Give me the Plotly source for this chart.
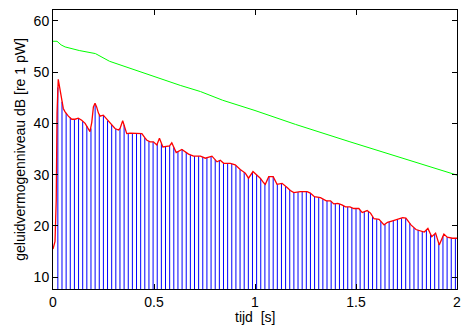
import plotly.graph_objects as go

# Red curve (fine-resolution level), time in s, level in dB
red_t = [0.000, 0.010, 0.016, 0.020, 0.026, 0.035, 0.043, 0.051, 0.059, 0.076,
         0.093, 0.109, 0.125, 0.142, 0.159, 0.175, 0.183, 0.192, 0.200, 0.208,
         0.216, 0.225, 0.233, 0.249, 0.258, 0.274, 0.291, 0.307, 0.324, 0.332,
         0.345, 0.352, 0.365, 0.382, 0.415, 0.440, 0.456, 0.465, 0.481, 0.497,
         0.514, 0.527, 0.544, 0.560, 0.577, 0.588, 0.610, 0.638, 0.671, 0.696,
         0.730, 0.754, 0.778, 0.787, 0.812, 0.828, 0.845, 0.878, 0.902, 0.927,
         0.952, 0.968, 0.990, 1.010, 1.026, 1.043, 1.051, 1.068, 1.090, 1.109,
         1.134, 1.159, 1.175, 1.192, 1.210, 1.225, 1.258, 1.274, 1.294, 1.324,
         1.353, 1.374, 1.390, 1.410, 1.430, 1.448, 1.470, 1.489, 1.514, 1.531,
         1.555, 1.572, 1.589, 1.614, 1.639, 1.656, 1.681, 1.706, 1.731, 1.747,
         1.772, 1.797, 1.820, 1.838, 1.856, 1.875, 1.894, 1.912, 1.935, 1.952,
         1.977, 2.000]
red_db = [15.5, 17.0, 25.0, 42.0, 48.6, 46.2, 44.5, 42.9, 42.3, 41.4,
          40.8, 40.8, 41.0, 40.6, 40.0, 39.0, 38.4, 40.2, 43.2, 43.9,
          43.2, 42.0, 41.4, 41.6, 41.2, 40.3, 39.7, 39.0, 38.7, 39.0,
          40.5, 39.7, 38.0, 38.1, 38.1, 38.0, 37.1, 36.7, 36.4, 36.4,
          35.8, 37.1, 35.4, 35.5, 35.6, 36.2, 34.3, 34.9, 34.0, 33.6,
          33.6, 33.2, 33.5, 33.6, 32.5, 32.8, 32.2, 32.2, 31.9, 31.0,
          30.3, 29.3, 30.6, 29.9, 29.3, 28.4, 28.1, 29.6, 29.6, 28.1,
          28.3, 27.5, 26.9, 26.5, 26.6, 26.7, 26.7, 26.4, 25.7, 25.5,
          24.9, 24.9, 24.3, 24.4, 24.1, 23.7, 23.7, 23.4, 23.4, 22.6,
          23.0, 22.5, 21.4, 21.3, 20.2, 20.7, 21.0, 21.3, 21.6, 21.5,
          20.2, 19.3, 19.1, 18.8, 19.5, 17.9, 18.6, 16.3, 18.4, 17.8,
          17.6, 17.6]

# Blue stems (frame levels)
stem_start = 0.024
stem_step = 0.0205
stem_db = [47.0, 44.2, 42.0, 41.1, 40.8, 41.0, 40.4, 39.5, 39.0, 43.8,
           41.7, 41.6, 40.5, 39.7, 38.9, 39.0, 39.7, 38.0, 38.1, 38.1,
           38.0, 37.2, 36.5, 36.4, 36.0, 36.0, 35.5, 35.6, 35.3, 34.5,
           34.9, 34.4, 33.8, 33.6, 33.6, 33.4, 33.3, 33.5, 32.9, 32.7,
           32.2, 32.2, 32.1, 31.8, 31.0, 30.5, 29.4, 30.4, 30.0, 29.2,
           28.2, 29.6, 29.6, 28.1, 28.3, 27.7, 27.0, 26.5, 26.6, 26.7,
           26.7, 26.4, 25.7, 25.5, 25.2, 24.9, 24.8, 24.3, 24.3, 23.9,
           23.7, 23.5, 23.4, 23.1, 22.8, 22.8, 21.8, 21.3, 20.9, 20.3,
           20.8, 21.0, 21.3, 21.5, 21.5, 20.5, 19.6, 19.2, 19.0, 19.2,
           18.4, 18.4, 16.5, 18.0, 17.8, 17.6, 17.6]
stem_t = [round(stem_start + stem_step * i, 4) for i in range(len(stem_db))]

# Green line
green_t = [0.00, 0.02, 0.04, 0.06, 0.13, 0.21, 0.28, 0.36, 0.43, 0.53,
           0.63, 0.73, 0.84, 1.00, 1.20, 1.47, 1.77, 2.00]
green_db = [56.0, 56.0, 55.3, 54.9, 54.2, 53.6, 52.1, 51.0, 50.1, 48.7,
            47.4, 46.2, 44.5, 42.5, 39.8, 36.4, 32.8, 29.9]

x_ticks = [0, 0.5, 1, 1.5, 2]
x_ticklabels = ["0", "0.5", "1", "1.5", "2"]
y_ticks = [10, 20, 30, 40, 50, 60]

stem_x, stem_y = [], []
for t, v in zip(stem_t, stem_db):
    stem_x += [t, t, None]
    stem_y += [0, v, None]

fig = go.Figure()
fig.add_trace(go.Scatter(x=stem_x, y=stem_y, mode="lines",
                         line=dict(color="#0000FF", width=1), hoverinfo="skip"))
fig.add_trace(go.Scatter(x=red_t, y=red_db, mode="lines",
                         line=dict(color="#FF0000", width=1.3)))
fig.add_trace(go.Scatter(x=green_t, y=green_db, mode="lines",
                         line=dict(color="#00FF00", width=1)))

font = dict(family="Liberation Sans, Arial, sans-serif", size=14, color="black")
# the page body adds an 8 px offset on the left and top; the figure is sized to fit
fig.update_layout(
    width=464, height=318,
    margin=dict(l=45, r=15, t=2, b=37),
    paper_bgcolor="white", plot_bgcolor="white",
    showlegend=False, font=font,
    xaxis=dict(range=[0, 2], tickvals=x_ticks, ticktext=x_ticklabels,
               ticks="inside", ticklen=5, tickcolor="black",
               showline=True, linecolor="black", linewidth=1, mirror="ticks",
               showgrid=False, zeroline=False, automargin=False),
    yaxis=dict(range=[7.7, 62.1], tickvals=y_ticks,
               ticks="inside", ticklen=5, tickcolor="black",
               showline=True, linecolor="black", linewidth=1, mirror="ticks",
               showgrid=False, zeroline=False, automargin=False,
               title=dict(text="geluidvermogenniveau dB [re 1 pW]", standoff=4, font=font)),
    annotations=[dict(text="tijd  [s]", xref="paper", yref="paper", x=0.5, y=-0.102,
                      xanchor="center", yanchor="middle", showarrow=False, font=font)],
)
fig.write_html("out.html")
